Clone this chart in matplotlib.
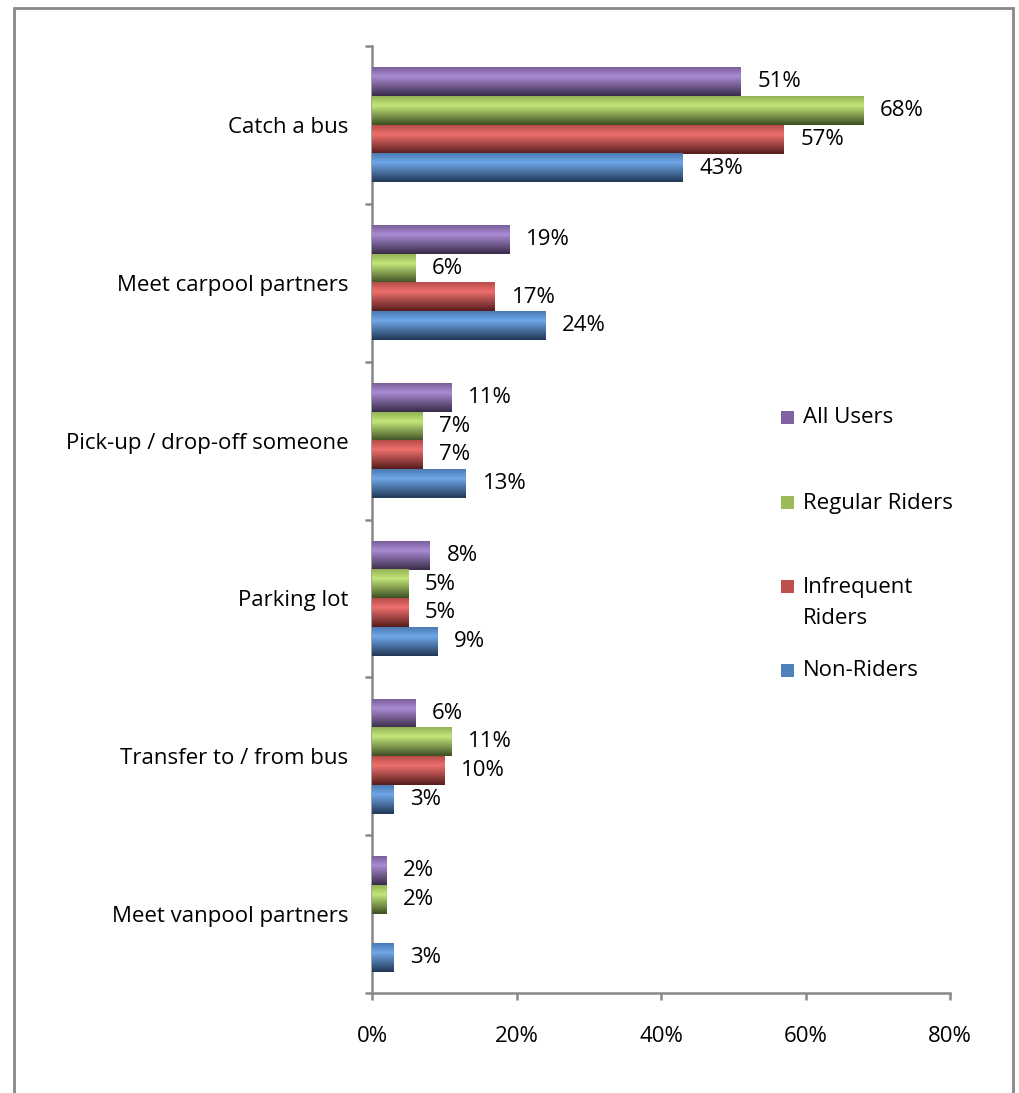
import numpy as np
import matplotlib.pyplot as plt
from matplotlib.patches import Rectangle

plt.rcParams['font.family'] = ['Open Sans', 'DejaVu Sans']

categories = ['Catch a bus', 'Meet carpool partners', 'Pick-up / drop-off someone',
              'Parking lot', 'Transfer to / from bus', 'Meet vanpool partners']
series = ['All Users', 'Regular Riders', 'Infrequent Riders', 'Non-Riders']
all_users = [51, 19, 11, 8, 6, 2]
regular_riders = [68, 6, 7, 5, 11, 2]
infrequent_riders = [57, 17, 7, 5, 10, np.nan]
non_riders = [43, 24, 13, 9, 3, 3]
xticks = [0, 20, 40, 60, 80]

base_colors = ['#8064A2', '#9BBB59', '#C0504D', '#4F81BD']
light_colors = ['#A98BD3', '#C3E67A', '#EE706E', '#6FA7E8']
dark_colors = ['#392B49', '#3D4F23', '#561D1C', '#213857']
fs = 16

def gradient(base, light, dark, n=64):
    # vertical band: base at top edge, light near 1/3, dark at bottom
    b = np.array(plt.matplotlib.colors.to_rgb(base))
    l = np.array(plt.matplotlib.colors.to_rgb(light))
    d = np.array(plt.matplotlib.colors.to_rgb(dark))
    t = np.linspace(0, 1, n)
    stops = [0.0, 0.32, 1.0]
    out = np.zeros((n, 1, 3))
    for k in range(3):
        out[:, 0, k] = np.interp(t, stops, [b[k] * 0.95, l[k], d[k]])
    return out

fig = plt.figure(figsize=(10.19, 10.93), dpi=100)
ax = fig.add_axes([372 / 1019, 1 - 993 / 1093, (950 - 372) / 1019, (993 - 46) / 1093])

n = len(categories)
h = 0.182
centers = np.arange(n)[::-1].astype(float)
offsets = [1.5 * h, 0.5 * h, -0.5 * h, -1.5 * h]
data = [all_users, regular_riders, infrequent_riders, non_riders]

for vals, off, bc, lc, dc, name in zip(data, offsets, base_colors, light_colors, dark_colors, series):
    bars = ax.barh(centers + off, vals, height=h, color=bc, label=name, zorder=2)
    grad = gradient(bc, lc, dc)
    for p, v in zip(bars.patches, vals):
        if np.isnan(v):
            continue
        x0, y0, w, hh = p.get_x(), p.get_y(), p.get_width(), p.get_height()
        ax.imshow(grad, extent=[x0, x0 + w, y0, y0 + hh], origin='upper',
                  aspect='auto', zorder=3)
    labels = ['' if np.isnan(v) else f'{v:.0f}%' for v in vals]
    ax.bar_label(bars, labels=labels, padding=12, fontsize=fs, zorder=4)

ax.set_xlim(0, 80)
ax.set_ylim(-0.5, n - 0.5)
ax.set_xticks(xticks)
ax.set_xticklabels([f'{x}%' for x in xticks], fontsize=fs)
ax.set_yticks(centers)
ax.set_yticklabels(categories, fontsize=fs)
ax.set_yticks(np.arange(n + 1) - 0.5, minor=True)

spine_col = '#888888'
for s in ['top', 'right']:
    ax.spines[s].set_visible(False)
for s in ['left', 'bottom']:
    ax.spines[s].set_color(spine_col)
    ax.spines[s].set_linewidth(1.8)
ax.tick_params(axis='y', which='major', length=0, pad=17)
ax.tick_params(axis='y', which='minor', length=5, width=1.8, color=spine_col, direction='out')
ax.tick_params(axis='x', which='major', length=5, width=1.8, color=spine_col,
               direction='out', pad=19)

# legend drawn by hand to match the uneven spacing
leg_rows = [(418, ['All Users']), (503, ['Regular Riders']),
            (587, ['Infrequent', 'Riders']), (671, ['Non-Riders'])]
for (yy, lines), col in zip(leg_rows, base_colors):
    fig.patches.append(Rectangle((781 / 1019, 1 - (yy + 6) / 1093), 13 / 1019, 13 / 1093,
                                 transform=fig.transFigure, facecolor=col, edgecolor='none'))
    for j, line in enumerate(lines):
        fig.text(803 / 1019, 1 - (yy + 32 * j) / 1093, line, fontsize=fs, va='center')

# outer frame
fig.patches.append(Rectangle((14 / 1019, -0.01), (1013 - 14) / 1019, 1 - 8 / 1093 + 0.01,
                             transform=fig.transFigure, fill=False,
                             edgecolor=spine_col, linewidth=2))

fig.savefig('out.png', dpi=100)
